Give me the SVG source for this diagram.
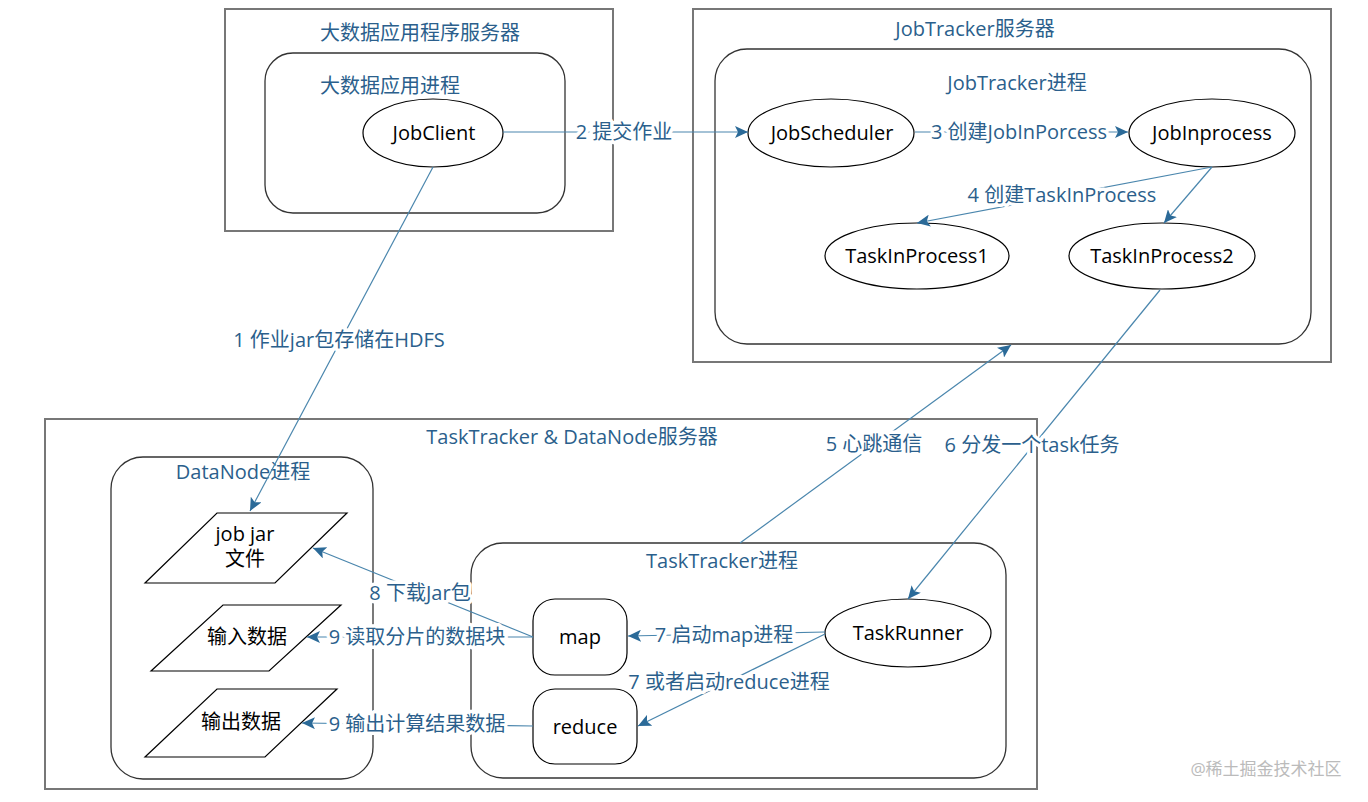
<svg xmlns="http://www.w3.org/2000/svg" width="1368" height="802" viewBox="0 0 1368 802">
<defs>
<marker id="arr" markerUnits="userSpaceOnUse" markerWidth="14" markerHeight="12" refX="13" refY="6" orient="auto">
<path d="M0,0 L13,6 L0,12 L3,6 z" fill="#2b6a98"/>
</marker>
<style>
text{font-family:"Open Sans","Noto Sans CJK SC",sans-serif;font-size:20px;text-anchor:middle}
.t{fill:#2b5f8c}
.lb{fill:#2b5f8c;stroke:#fff;stroke-width:7;stroke-linejoin:round;paint-order:stroke}
.n{fill:#000}
.outer{fill:none;stroke:#777;stroke-width:2}
.inner{fill:none;stroke:#333;stroke-width:1.3}
.node{fill:#fff;stroke:#000;stroke-width:1.2}
.c{fill:none;stroke:#4a86ad;stroke-width:1.2;marker-end:url(#arr)}
.wm{fill:#bbb;font-size:17px}
</style>
</defs>
<rect width="1368" height="802" fill="#fff"/>

<g id="app-server">
<rect class="outer" x="225" y="9" width="388" height="222"/>
<text class="t" x="420" y="40">大数据应用程序服务器</text>
</g>
<g id="app-process">
<rect class="inner" x="265" y="53" width="300" height="160" rx="28"/>
<text class="t" x="390" y="93">大数据应用进程</text>
</g>
<g id="jobclient">
<ellipse class="node" cx="433" cy="133" rx="70" ry="34"/>
<text class="n" x="434" y="140">JobClient</text>
</g>

<g id="jobtracker-server">
<rect class="outer" x="693" y="9" width="638" height="353"/>
<text class="t" x="975" y="36">JobTracker服务器</text>
</g>
<g id="jobtracker-process">
<rect class="inner" x="715" y="49" width="596" height="295" rx="32"/>
<text class="t" x="1017" y="90">JobTracker进程</text>
</g>
<g id="jobscheduler">
<ellipse class="node" cx="831" cy="133" rx="83" ry="34"/>
<text class="n" x="832" y="140">JobScheduler</text>
</g>
<g id="jobinprocess">
<ellipse class="node" cx="1212" cy="133" rx="83" ry="34"/>
<text class="n" x="1212" y="140">JobInprocess</text>
</g>
<g id="taskinprocess1">
<ellipse class="node" cx="917" cy="256" rx="92" ry="33"/>
<text class="n" x="917" y="263">TaskInProcess1</text>
</g>
<g id="taskinprocess2">
<ellipse class="node" cx="1162" cy="256" rx="93" ry="33"/>
<text class="n" x="1162" y="263">TaskInProcess2</text>
</g>

<g id="tasktracker-server">
<rect class="outer" x="45" y="419" width="992" height="370"/>
<text class="t" x="572" y="444">TaskTracker &amp; DataNode服务器</text>
</g>
<g id="datanode-process">
<rect class="inner" x="111" y="457" width="262" height="322" rx="32"/>
<text class="t" x="243" y="479">DataNode进程</text>
</g>
<g id="jobjar">
<polygon class="node" points="217,513 347,513 275,583 145,583"/>
<text class="n" x="245" y="541">job jar</text>
<text class="n" x="245" y="566">文件</text>
</g>
<g id="input-data">
<polygon class="node" points="223,605 341,605 269,671 151,671"/>
<text class="n" x="247" y="644">输入数据</text>
</g>
<g id="output-data">
<polygon class="node" points="217,689 337,689 265,757 145,757"/>
<text class="n" x="241" y="729">输出数据</text>
</g>
<g id="tasktracker-process">
<rect class="inner" x="471" y="543" width="535" height="235" rx="32"/>
<text class="t" x="722" y="568">TaskTracker进程</text>
</g>
<g id="map">
<rect class="node" x="533" y="599" width="94" height="76" rx="22"/>
<text class="n" x="580" y="644">map</text>
</g>
<g id="reduce">
<rect class="node" x="533" y="689" width="104" height="75" rx="22"/>
<text class="n" x="585" y="734">reduce</text>
</g>
<g id="taskrunner">
<ellipse class="node" cx="908" cy="633" rx="83" ry="34"/>
<text class="n" x="908" y="640">TaskRunner</text>
</g>

<g id="connectors">
<line class="c" x1="433" y1="167" x2="250" y2="511"/>
<line class="c" x1="503" y1="132" x2="748" y2="132"/>
<line class="c" x1="915" y1="132" x2="1128" y2="132"/>
<line class="c" x1="1212" y1="167" x2="917" y2="223"/>
<line class="c" x1="1212" y1="167" x2="1164" y2="223"/>
<line class="c" x1="740" y1="543" x2="1011" y2="345"/>
<line class="c" x1="1160" y1="290" x2="908" y2="599"/>
<line class="c" x1="825" y1="632" x2="628" y2="636"/>
<line class="c" x1="825" y1="634" x2="638" y2="726"/>
<line class="c" x1="533" y1="637" x2="313" y2="548"/>
<line class="c" x1="533" y1="637" x2="307" y2="637"/>
<line class="c" x1="533" y1="726" x2="302" y2="723"/>
<text class="lb" x="339" y="347">1 作业jar包存储在HDFS</text>
<text class="lb" x="624" y="139">2 提交作业</text>
<text class="lb" x="1019" y="139">3 创建JobInPorcess</text>
<text class="lb" x="1062" y="202">4 创建TaskInProcess</text>
<text class="lb" x="874" y="451">5 心跳通信</text>
<text class="lb" x="1032" y="452">6 分发一个task任务</text>
<text class="lb" x="724" y="642">7 启动map进程</text>
<text class="lb" x="729" y="689">7 或者启动reduce进程</text>
<text class="lb" x="420" y="600">8 下载Jar包</text>
<text class="lb" x="417" y="644">9 读取分片的数据块</text>
<text class="lb" x="417" y="731">9 输出计算结果数据</text>
</g>
<text class="wm" x="1266" y="775">@稀土掘金技术社区</text>
</svg>
